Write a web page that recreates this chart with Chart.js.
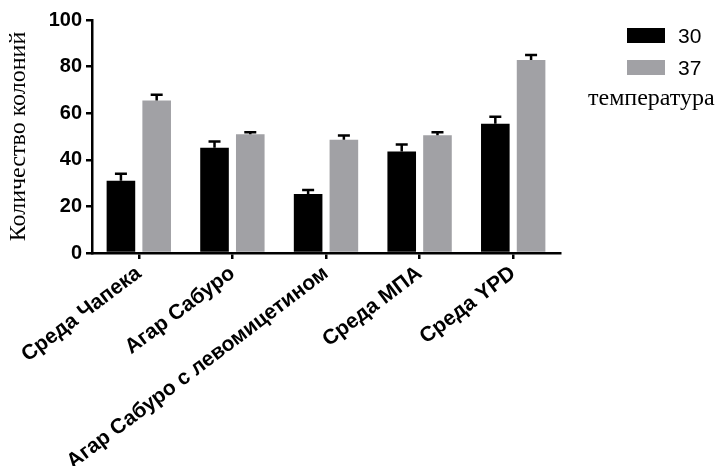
<!DOCTYPE html>
<html>
<head>
<meta charset="utf-8">
<script src="https://cdn.jsdelivr.net/npm/chart.js@4"></script>
<style>
  html, body { margin: 0; padding: 0; background: #fff; }
  #wrap { position: relative; width: 720px; height: 466px; overflow: hidden; }
  #c { position: absolute; left: 0; top: 0; }
  .lg-box { position: absolute; width: 38px; height: 15px; }
  .lg-txt { position: absolute; font-family: 'Liberation Sans', Arial, sans-serif; font-size: 21px; line-height: 21px; color: #000; }
  .lg-title { position: absolute; font-family: 'Liberation Serif', 'Times New Roman', serif; font-size: 24px; line-height: 24px; color: #000; white-space: nowrap; }
</style>
</head>
<body>
<div id="wrap">
  <canvas id="c" width="720" height="466"></canvas>
  <div id="legend"></div>
</div>
<script>
const categories = ['Среда Чапека', 'Агар Сабуро', 'Агар Сабуро с левомицетином', 'Среда МПА', 'Среда YPD'];
const seriesNames = ['30', '37'];
const legendTitle = 'температура';
const yAxisTitle = 'Количество колоний';
const values30 = [31, 45.2, 25.3, 43.6, 55.5];
const errors30 = [3, 2.7, 1.7, 3, 3];
const values37 = [65.5, 51, 48.6, 50.5, 82.8];
const errors37 = [2.4, 0.8, 1.8, 1.3, 2.2];
const yTicks = [0, 20, 40, 60, 80, 100];

const colors = ['#000000', '#a1a1a5'];

const errorBarPlugin = {
  id: 'errorBars',
  afterDatasetsDraw(chart) {
    const ctx = chart.ctx;
    const yScale = chart.scales.y;
    ctx.save();
    ctx.strokeStyle = '#000';
    ctx.lineWidth = 2.5;
    chart.data.datasets.forEach((ds, di) => {
      const meta = chart.getDatasetMeta(di);
      meta.data.forEach((bar, i) => {
        const v = ds.data[i];
        const e = ds.errors[i];
        const yTop = yScale.getPixelForValue(v + e);
        const yBase = bar.y;
        ctx.beginPath();
        ctx.moveTo(bar.x, yBase);
        ctx.lineTo(bar.x, yTop);
        ctx.moveTo(bar.x - 6, yTop);
        ctx.lineTo(bar.x + 6, yTop);
        ctx.stroke();
      });
    });
    ctx.restore();
  }
};

new Chart(document.getElementById('c'), {
  type: 'bar',
  data: {
    labels: categories,
    datasets: [
      { label: seriesNames[0], data: values30, errors: errors30, backgroundColor: colors[0], borderWidth: 0 },
      { label: seriesNames[1], data: values37, errors: errors37, backgroundColor: colors[1], borderWidth: 0 }
    ]
  },
  options: {
    responsive: false,
    animation: false,
    devicePixelRatio: 1,
    layout: { padding: { top: 20, right: 160, left: 0, bottom: 0 } },
    plugins: { legend: { display: false }, tooltip: { enabled: false } },
    datasets: { bar: { categoryPercentage: 0.764, barPercentage: 0.8 } },
    scales: {
      x: {
        offset: true,
        grid: { display: true, offset: false, drawOnChartArea: false, drawTicks: true, tickLength: 6, color: '#000', lineWidth: 2.5 },
        border: { display: true, color: '#000', width: 2.5 },
        ticks: {
          autoSkip: false, minRotation: 37, maxRotation: 37, padding: 2,
          color: '#000',
          font: { family: "'Liberation Sans', Arial, sans-serif", size: 21, weight: 'bold' }
        },
        afterFit(scale) { scale.height = 466 - 253; scale.paddingLeft = 0; scale.paddingRight = 0; }
      },
      y: {
        min: 0, max: 100,
        afterBuildTicks(scale) { scale.ticks = yTicks.map(v => ({ value: v })); },
        grid: { display: true, drawOnChartArea: false, drawTicks: true, tickLength: 6, color: '#000', lineWidth: 2.5 },
        border: { display: true, color: '#000', width: 2.5 },
        ticks: {
          color: '#000', padding: 4,
          font: { family: "'Liberation Sans', Arial, sans-serif", size: 20, weight: 'bold' }
        },
        title: {
          display: true, text: yAxisTitle, color: '#000',
          padding: { top: 4, bottom: 0 },
          font: { family: "'Liberation Serif', 'Times New Roman', serif", size: 24, weight: 'normal' }
        },
        afterFit(scale) { scale.width = 92; }
      }
    }
  },
  plugins: [errorBarPlugin]
});

// HTML legend built from series names and colours
const lg = document.getElementById('legend');
const boxTops = [28, 60];
seriesNames.forEach((name, i) => {
  const b = document.createElement('div');
  b.className = 'lg-box';
  b.style.left = '627px';
  b.style.top = boxTops[i] + 'px';
  b.style.background = colors[i];
  lg.appendChild(b);
  const t = document.createElement('div');
  t.className = 'lg-txt';
  t.style.left = '678px';
  t.style.top = (boxTops[i] - 3) + 'px';
  t.textContent = name;
  lg.appendChild(t);
});
const lt = document.createElement('div');
lt.className = 'lg-title';
lt.style.left = '588px';
lt.style.top = '85px';
lt.textContent = legendTitle;
lg.appendChild(lt);
</script>
</body>
</html>
